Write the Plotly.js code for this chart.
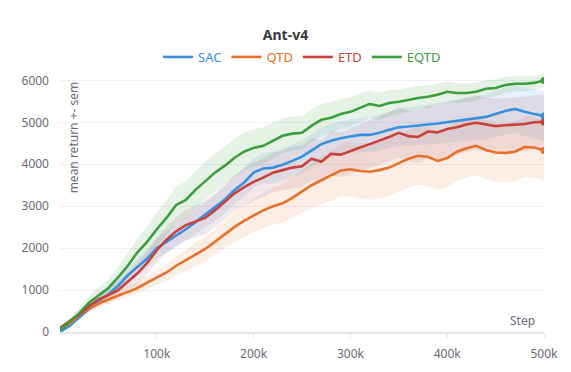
<!DOCTYPE html>
<html>
<head>
<meta charset="utf-8">
<script src="https://cdn.plot.ly/plotly-3.0.1.min.js"></script>
<style>
  html, body { margin: 0; padding: 0; background: #fff; }
  #chart { width: 571px; height: 372px; }
</style>
</head>
<body>
<div id="chart"></div>
<script>
// steps, every 10k up to 500k
const steps = [
  0, 10000, 20000, 30000, 40000, 50000, 60000, 70000, 80000, 90000,
  100000, 110000, 120000, 130000, 140000, 150000, 160000, 170000, 180000, 190000,
  200000, 210000, 220000, 230000, 240000, 250000, 260000, 270000, 280000, 290000,
  300000, 310000, 320000, 330000, 340000, 350000, 360000, 370000, 380000, 390000,
  400000, 410000, 420000, 430000, 440000, 450000, 460000, 470000, 480000, 490000,
  500000
];

const sacMean = [
  0, 150, 350, 550, 750, 900, 1100, 1350, 1550, 1750,
  2000, 2150, 2280, 2450, 2620, 2800, 2960, 3150, 3380, 3560,
  3800, 3900, 3920, 3990, 4080, 4180, 4330, 4480, 4560, 4620,
  4660, 4700, 4700, 4750, 4820, 4880, 4900, 4930, 4950, 4970,
  5000, 5030, 5070, 5100, 5130, 5200, 5270, 5320, 5250, 5200,
  5150
];
const sacSem = [
  20, 40, 70, 100, 120, 150, 170, 190, 210, 230,
  250, 260, 270, 280, 290, 300, 310, 320, 330, 340,
  350, 360, 370, 380, 390, 400, 400, 400, 400, 400,
  400, 410, 420, 430, 440, 450, 460, 470, 480, 490,
  500, 510, 520, 530, 540, 550, 560, 570, 580, 590,
  600
];

const qtdMean = [
  80, 200, 400, 560, 680, 780, 870, 950, 1050, 1180,
  1300, 1420, 1580, 1720, 1850, 1980, 2150, 2330, 2500, 2650,
  2780, 2900, 3000, 3070, 3200, 3350, 3500, 3620, 3740, 3850,
  3880, 3840, 3820, 3860, 3920, 4030, 4130, 4200, 4180, 4080,
  4150, 4300, 4380, 4440, 4340, 4280, 4270, 4300, 4410, 4400,
  4330
];
const qtdSem = [
  30, 50, 70, 80, 90, 100, 110, 130, 140, 160,
  170, 190, 220, 250, 280, 300, 320, 340, 360, 380,
  400, 420, 440, 460, 480, 500, 530, 560, 600, 630,
  650, 660, 670, 670, 680, 680, 690, 690, 700, 700,
  700, 700, 700, 700, 700, 700, 710, 710, 720, 720,
  720
];

const etdMean = [
  100, 250, 420, 620, 780, 880, 1000, 1200, 1400, 1650,
  1950, 2200, 2400, 2550, 2640, 2720, 2900, 3100, 3300, 3450,
  3580, 3680, 3800, 3860, 3920, 3950, 4130, 4060, 4250, 4230,
  4320, 4400, 4480, 4560, 4650, 4750, 4670, 4650, 4780, 4760,
  4840, 4880, 4950, 4990, 4950, 4910, 4930, 4950, 4960, 5000,
  5010
];
const etdSem = [
  30, 50, 80, 110, 140, 170, 200, 230, 250, 280,
  300, 320, 340, 360, 380, 400, 410, 420, 430, 440,
  450, 460, 470, 480, 490, 500, 510, 520, 530, 540,
  550, 560, 570, 580, 590, 600, 610, 620, 630, 640,
  650, 650, 650, 650, 650, 650, 650, 650, 650, 650,
  650
];

const eqtdMean = [
  50, 250, 450, 700, 880, 1050, 1300, 1580, 1900, 2150,
  2450, 2720, 3030, 3150, 3390, 3600, 3800, 3960, 4150, 4300,
  4390, 4440, 4560, 4680, 4730, 4750, 4920, 5060, 5110, 5200,
  5250, 5350, 5440, 5390, 5460, 5490, 5540, 5580, 5610, 5660,
  5730, 5700, 5700, 5730, 5800, 5820, 5890, 5920, 5920, 5940,
  6000
];
const eqtdSem = [
  30, 80, 120, 160, 190, 200, 250, 300, 340, 370,
  400, 420, 440, 450, 450, 450, 450, 450, 450, 450,
  450, 440, 430, 420, 410, 400, 390, 380, 370, 360,
  350, 340, 330, 320, 310, 300, 290, 280, 270, 260,
  250, 240, 230, 220, 210, 200, 190, 185, 180, 175,
  170
];

const names = ["SAC", "QTD", "ETD", "EQTD"];
const colors = ["#3a8fdc", "#e8702a", "#c9413c", "#3b9e3f"];
const fills = [
  "rgba(58,143,220,0.12)",
  "rgba(232,112,42,0.12)",
  "rgba(150,60,80,0.12)",
  "rgba(59,158,63,0.13)"
];
const means = [sacMean, qtdMean, etdMean, eqtdMean];
const sems = [sacSem, qtdSem, etdSem, eqtdSem];

const xTicks = [100000, 200000, 300000, 400000, 500000];
const xTickText = ["100k", "200k", "300k", "400k", "500k"];
const yTicks = [0, 1000, 2000, 3000, 4000, 5000, 6000];

// bands first
let traces = [];

for (let s = 0; s < names.length; s++) {
  let upper = means[s].map((m, i) => m + sems[s][i]);
  let lower = means[s].map((m, i) => m - sems[s][i]);
  traces.push({
    x: steps.concat(steps.slice().reverse()),
    y: upper.concat(lower.slice().reverse()),
    type: "scatter",
    mode: "lines",
    fill: "toself",
    fillcolor: fills[s],
    line: { width: 0, color: "rgba(0,0,0,0)" },
    hoverinfo: "skip",
    showlegend: false
  });
}

// mean lines
for (let s = 0; s < names.length; s++) {
  traces.push({
    x: steps,
    y: means[s],
    type: "scatter",
    mode: "lines",
    name: '<span style="color:' + colors[s] + '">' + names[s] + "</span>",
    line: { color: colors[s], width: 2.6 }
  });
}

// end dots
for (let s = 0; s < names.length; s++) {
  let last = steps.length - 1;
  traces.push({
    x: [steps[last]],
    y: [means[s][last]],
    type: "scatter",
    mode: "markers",
    marker: { color: colors[s], size: 7 },
    showlegend: false
  });
}

let layout = {
  width: 571,
  height: 372,
  margin: { l: 60, r: 27, t: 72, b: 40 },
  paper_bgcolor: "#ffffff",
  plot_bgcolor: "#ffffff",
  font: { family: "Noto Sans, sans-serif", size: 12, color: "#6b6b76" },
  title: {
    text: "<b>Ant-v4</b>",
    x: 0.5,
    xanchor: "center",
    y: 0.92,
    yanchor: "top",
    font: { family: "Noto Sans, sans-serif", size: 14, color: "#3a3a40" }
  },
  showlegend: true,
  legend: {
    orientation: "h",
    x: 0.5,
    xanchor: "center",
    y: 1.0,
    yanchor: "bottom",
    font: { family: "Noto Sans, sans-serif", size: 13 },
    itemwidth: 30,
    tracegroupgap: 0
  },
  xaxis: {
    range: [0, 500000],
    tickvals: xTicks,
    ticktext: xTickText,
    showgrid: false,
    zeroline: false,
    showline: true,
    linecolor: "#e4e4e6",
    linewidth: 2,
    ticks: "outside",
    ticklen: 4,
    tickcolor: "#e4e4e6",
    tickwidth: 1,
    ticklabelstandoff: 6,
    tickfont: { size: 12, color: "#6b6b76" }
  },
  yaxis: {
    range: [0, 6200],
    tickvals: yTicks,
    showgrid: true,
    gridcolor: "#f1f1f3",
    zeroline: false,
    showline: false,
    ticks: "",
    ticklabelstandoff: 10,
    tickfont: { size: 12, color: "#6b6b76" }
  },
  annotations: [
    {
      text: "Step",
      xref: "paper",
      yref: "paper",
      x: 0.985,
      y: 0.005,
      xanchor: "right",
      yanchor: "bottom",
      showarrow: false,
      font: { size: 12, color: "#6b6b76" }
    },
    {
      text: "mean return +- sem",
      xref: "paper",
      yref: "paper",
      x: 0.028,
      y: 0.97,
      xanchor: "center",
      yanchor: "top",
      textangle: -90,
      showarrow: false,
      font: { size: 12, color: "#6b6b76" }
    }
  ]
};

Plotly.newPlot("chart", traces, layout, { displayModeBar: false, staticPlot: true });
</script>
</body>
</html>
